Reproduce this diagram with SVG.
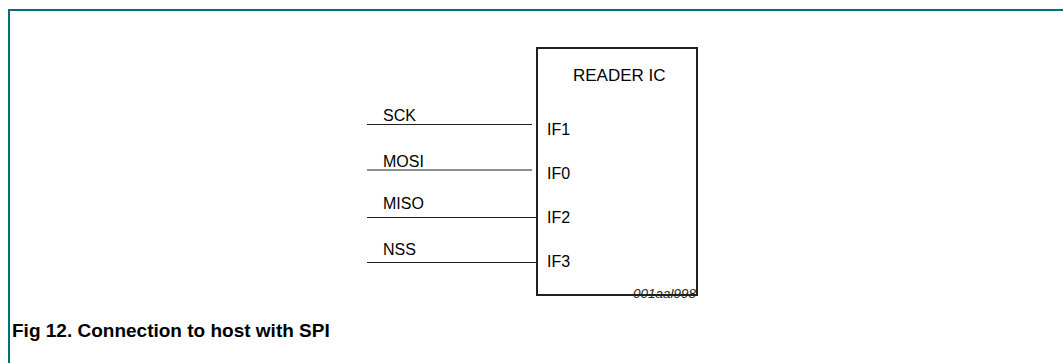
<svg xmlns="http://www.w3.org/2000/svg" width="1063" height="363" viewBox="0 0 1063 363">
  <style>
    .frame { fill: none; stroke: #00707f; stroke-width: 2; }
    .box { fill: #ffffff; stroke: #231f20; stroke-width: 2; }
    .wire { fill: none; stroke: #231f20; stroke-width: 1.2; }
    .lbl { font-family: "Liberation Sans", Arial, sans-serif; font-size: 16px; fill: #000000; }
    .title { font-family: "Liberation Sans", Arial, sans-serif; font-size: 17px; fill: #000000; }
    .code { font-family: "Liberation Sans", Arial, sans-serif; font-size: 13.5px; font-style: italic; fill: #231f20; }
    .cap { font-family: "Liberation Sans", Arial, sans-serif; font-size: 19px; font-weight: bold; fill: #000000; }
  </style>
  <rect width="1063" height="363" fill="#ffffff"/>
  <polyline class="frame" points="9,363 9,10 1063,10"/>

  <g id="reader-ic">
    <rect class="box" x="537" y="48" width="160" height="247"/>
    <text class="title" x="573" y="81">READER IC</text>
    <text class="lbl" x="547" y="135">IF1</text>
    <text class="lbl" x="547" y="179">IF0</text>
    <text class="lbl" x="547" y="223">IF2</text>
    <text class="lbl" x="547" y="267">IF3</text>
    <text class="code" x="633" y="298">001aal998</text>
  </g>

  <g id="signal-labels">
    <text class="lbl" x="383" y="121">SCK</text>
    <text class="lbl" x="383" y="167">MOSI</text>
    <text class="lbl" x="383" y="209">MISO</text>
    <text class="lbl" x="383" y="255">NSS</text>
  </g>

  <g id="connectors">
    <line class="wire" x1="367" y1="124.5" x2="532" y2="124.5"/>
    <line class="wire" x1="367" y1="170" x2="532" y2="170"/>
    <line class="wire" x1="367" y1="217.5" x2="537" y2="217.5"/>
    <line class="wire" x1="367" y1="262.5" x2="537" y2="262.5"/>
  </g>

  <g id="caption">
    <text class="cap" x="12" y="337">Fig 12. Connection to host with SPI</text>
  </g>
</svg>
